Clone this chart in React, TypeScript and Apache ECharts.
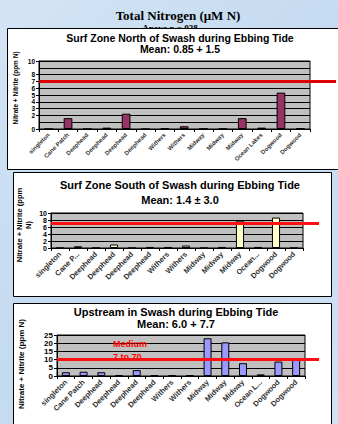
import React, { useEffect, useRef } from "react";
import * as echarts from "echarts";

const northCategories = ["singleton", "Cane Patch", "Deephead", "Deephead", "Deephead", "Deephead", "Withers", "Withers", "Midway", "Midway", "Midway", "Ocean Lakes", "Dogwood", "Dogwood"];
const northValues = [0, 1.6, 0, 0.2, 2.25, 0, 0.1, 0.4, 0.05, 0.05, 1.6, 0.2, 5.35, 0.1];

const southCategories = ["singleton", "Cane P...", "Deephead", "Deephead", "Deephead", "Deephead", "Withers", "Withers", "Midway", "Midway", "Midway", "Ocean...", "Dogwood", "Dogwood"];
const southValues = [0, 0.5, 0, 1.0, 0, 0.3, 0.3, 0.7, 0, 0.3, 7.8, 0.3, 8.7, 0];

const upstreamCategories = ["singleton", "Cane Patch", "Deephead", "Deephead", "Deephead", "Deephead", "Withers", "Withers", "Midway", "Midway", "Midway", "Ocean L...", "Dogwood", "Dogwood"];
const upstreamValues = [2.3, 2.6, 2.3, 0.5, 3.6, 0.5, 0.5, 0.5, 23, 20.5, 7.8, 1, 8.8, 9.8];

const thresholdNorth = 7;
const thresholdSouth = 7;
const thresholdUpstream = 10;

const titles = {
  main: "Total Nitrogen (\u03BCM N)",
  anova: "Anova p = 038",
  north: "Surf Zone North of Swash during Ebbing Tide",
  northMean: "Mean: 0.85 + 1.5",
  south: "Surf Zone South of Swash during Ebbing Tide",
  southMean: "Mean: 1.4 \u00B1 3.0",
  up: "Upstream in Swash during Ebbing Tide",
  upMean: "Mean: 6.0 + 7.7",
  yName: "Nitrate + Nitrite (ppm N)",
};

const SANS = '"Liberation Sans", Arial, sans-serif';
const SERIF = '"Liberation Serif", "Times New Roman", serif';

function thresholdSeries(idx: number, value: number, ext: number, color: string) {
  return {
    type: "custom",
    xAxisIndex: idx,
    yAxisIndex: idx,
    data: [[0, value]],
    z: 5,
    clip: false,
    silent: true,
    renderItem: (params: any, api: any) => {
      const cs = params.coordSys;
      const y = api.coord([0, api.value(1)])[1];
      return {
        type: "line",
        shape: { x1: cs.x, y1: y, x2: cs.x + cs.width + ext, y2: y },
        style: { stroke: color, lineWidth: 3 },
      };
    },
  };
}

function xAxis(idx: number, cats: string[], fontSize: number) {
  return {
    type: "category",
    gridIndex: idx,
    data: cats,
    axisLine: { show: true, lineStyle: { color: "#000", width: 1 } },
    axisTick: { show: true, interval: 0, length: 3, lineStyle: { color: "#000" } },
    axisLabel: {
      interval: 0,
      rotate: 45,
      fontSize,
      fontFamily: SANS,
      fontWeight: "bold",
      color: "#333",
      margin: 5,
      hideOverlap: false,
    },
  };
}

function yAxis(idx: number, max: number, interval: number, fontSize: number) {
  return {
    type: "value",
    gridIndex: idx,
    min: 0,
    max,
    interval,
    axisLine: { show: true, lineStyle: { color: "#000", width: 1 } },
    axisTick: { show: true, length: 3, lineStyle: { color: "#000" } },
    axisLabel: {
      fontSize,
      fontFamily: SANS,
      fontWeight: "bold",
      color: "#000",
      margin: 4,
      showMinLabel: true,
      showMaxLabel: true,
      hideOverlap: false,
      lineHeight: Math.min(fontSize, 6.5),
    },
    splitLine: { show: true, lineStyle: { color: "#000", width: 1 } },
  };
}

function barSeries(idx: number, values: number[], color: string) {
  return {
    type: "bar",
    xAxisIndex: idx,
    yAxisIndex: idx,
    data: values,
    barWidth: "45%",
    itemStyle: { color, borderColor: "#000", borderWidth: 1 },
  };
}

function txt(text: string, x: number, y: number, font: string, extra: any = {}) {
  return {
    type: "text",
    z: extra.z ?? 1,
    rotation: extra.rotation ?? 0,
    x,
    y,
    style: {
      text,
      x: 0,
      y: 0,
      textAlign: extra.align ?? "center",
      textVerticalAlign: "middle",
      font,
      fill: extra.fill ?? "#000",
      lineHeight: extra.lineHeight,
    },
  };
}

export default function App() {
  const ref = useRef<HTMLDivElement>(null);
  useEffect(() => {
    if (!ref.current) return;
    const chart = echarts.init(ref.current, undefined, { renderer: "svg" });
    const gridBase = { show: true, backgroundColor: "#c0c0c0", borderColor: "#000", borderWidth: 1, containLabel: false };
    chart.setOption({
      animation: false,
      backgroundColor: "transparent",
      grid: [
        { ...gridBase, left: 39, top: 61, width: 271, height: 68 },
        { ...gridBase, left: 51, top: 213, width: 252, height: 35 },
        { ...gridBase, left: 57, top: 335, width: 248, height: 41 },
      ],
      xAxis: [xAxis(0, northCategories, 6), xAxis(1, southCategories, 7.5), xAxis(2, upstreamCategories, 7.5)],
      yAxis: [yAxis(0, 10, 1, 6.5), yAxis(1, 10, 2, 7), yAxis(2, 25, 5, 8)],
      series: [
        barSeries(0, northValues, "#993366"),
        barSeries(1, southValues, "#ffffcc"),
        barSeries(2, upstreamValues, "#9999ff"),
        thresholdSeries(0, thresholdNorth, 26, "#dd0000"),
        thresholdSeries(1, thresholdSouth, 16, "#ff1010"),
        thresholdSeries(2, thresholdUpstream, 14, "#ff1010"),
      ],
      graphic: [
        txt(titles.anova, 170, 28, `bold 9px ${SERIF}`, { z: -3 }),
        txt(titles.main, 178, 15, `bold 13px ${SERIF}`),
        { type: "rect", z: -2, shape: { x: 7.5, y: 28.5, width: 340, height: 141 }, style: { fill: "#fff", stroke: "#000", lineWidth: 1 } },
        { type: "rect", z: -2, shape: { x: 13.5, y: 172.5, width: 318, height: 124 }, style: { fill: "#fff", stroke: "#000", lineWidth: 1 } },
        { type: "rect", z: -2, shape: { x: 13.5, y: 303.5, width: 318, height: 130 }, style: { fill: "#fff", stroke: "#000", lineWidth: 1 } },
        txt(titles.north, 180, 38, `bold 10.5px ${SANS}`),
        txt(titles.northMean, 180, 49, `bold 10.5px ${SANS}`),
        txt(titles.south, 180, 185, `bold 11px ${SANS}`),
        txt(titles.southMean, 180, 200, `bold 11px ${SANS}`),
        txt(titles.up, 176, 312, `bold 11px ${SANS}`),
        txt(titles.upMean, 176, 324, `bold 11px ${SANS}`),
        txt(titles.yName, 15, 88, `bold 6.5px ${SANS}`, { rotation: Math.PI / 2 }),
        txt("Nitrate + Nitrite (ppm\nN)", 24, 225, `bold 7.5px ${SANS}`, { rotation: Math.PI / 2, lineHeight: 9 }),
        txt(titles.yName, 21, 364, `bold 8px ${SANS}`, { rotation: Math.PI / 2 }),
        txt("Medium", 113, 344, `bold 9px ${SANS}`, { align: "left", fill: "#ff0000", z: 3 }),
        txt("7 to 70", 113, 357, `bold 9px ${SANS}`, { align: "left", fill: "#ff0000", z: 3 }),
      ],
    });
    return () => chart.dispose();
  }, []);
  return (
    <div
      ref={ref}
      style={{
        position: "fixed",
        left: 0,
        top: 0,
        width: 338,
        height: 424,
        background: "linear-gradient(135deg, #d3e4f5 0%, #c4daf0 50%, #d0e2f4 100%)",
      }}
    />
  );
}
